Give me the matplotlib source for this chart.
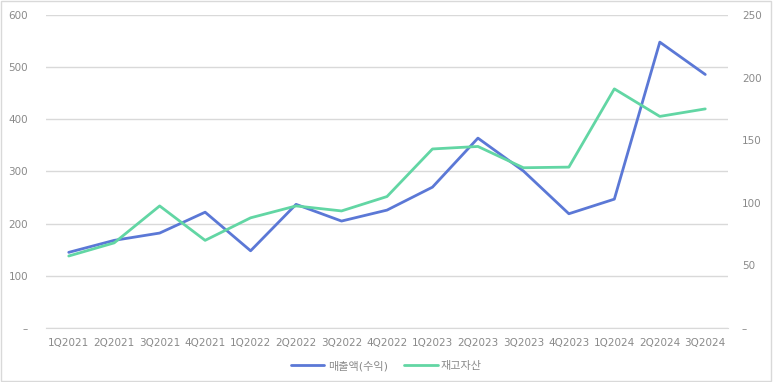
import matplotlib
matplotlib.use('Agg')
import matplotlib.pyplot as plt
from matplotlib.ticker import FuncFormatter

plt.rcParams['font.family'] = ['DejaVu Sans', 'Noto Sans CJK KR']

quarters = ['1Q2021', '2Q2021', '3Q2021', '4Q2021', '1Q2022', '2Q2022', '3Q2022', '4Q2022',
            '1Q2023', '2Q2023', '3Q2023', '4Q2023', '1Q2024', '2Q2024', '3Q2024']
revenue = [145, 168, 182, 222, 148, 237, 205, 226, 270, 364, 301, 219, 247, 548, 486]
inventory = [57.5, 68, 97.5, 70, 88, 97.5, 93.5, 105, 143, 145, 128, 128.5, 191, 169, 175]

blue = '#5b78d6'
green = '#62d6a4'
grey = '#8a8a8a'

fig = plt.figure(figsize=(7.73, 3.82), dpi=100)
ax = fig.add_axes([46 / 773, 1 - 328 / 382, 682 / 773, 313 / 382])
ax2 = ax.twinx()

x = list(range(len(quarters)))
ax.plot(x, revenue, color=blue, lw=2.0, label='매출액(수익)', solid_capstyle='round', zorder=3)
ax2.plot(x, inventory, color=green, lw=2.0, label='재고자산', solid_capstyle='round', zorder=3)

ax.set_xlim(-0.5, len(quarters) - 0.5)
ax.set_ylim(0, 600)
ax2.set_ylim(0, 250)
ax.set_yticks(range(0, 601, 100))
ax2.set_yticks(range(0, 251, 50))

dash = lambda v, p: '–' if v == 0 else f'{int(v)}'
ax.yaxis.set_major_formatter(FuncFormatter(dash))
ax2.yaxis.set_major_formatter(FuncFormatter(dash))

ax.set_xticks(x)
ax.set_xticklabels(quarters)

ax.grid(axis='y', color='#d9d9d9', lw=1)
ax.set_axisbelow(True)
for a in (ax, ax2):
    for s in a.spines.values():
        s.set_visible(False)
    a.tick_params(length=0, labelsize=7.5, colors=grey)
ax.tick_params(axis='x', pad=7)
ax.tick_params(axis='y', pad=13)
ax2.tick_params(axis='y', pad=10)
ax.spines['bottom'].set_visible(True)
ax.spines['bottom'].set_color('#d9d9d9')

h1, l1 = ax.get_legend_handles_labels()
h2, l2 = ax2.get_legend_handles_labels()
fig.legend(h1 + h2, l1 + l2, loc='center', bbox_to_anchor=(0.5, 1 - 366 / 382), ncol=2,
           frameon=False, fontsize=8, labelcolor=grey, handlelength=3, columnspacing=1.5,
           handletextpad=0.3)

fig.patches.append(plt.Rectangle((0.001, 0.002), 0.997, 0.995, transform=fig.transFigure,
                                 fill=False, edgecolor='#d9d9d9', lw=1))

fig.savefig('out.png', dpi=100)
